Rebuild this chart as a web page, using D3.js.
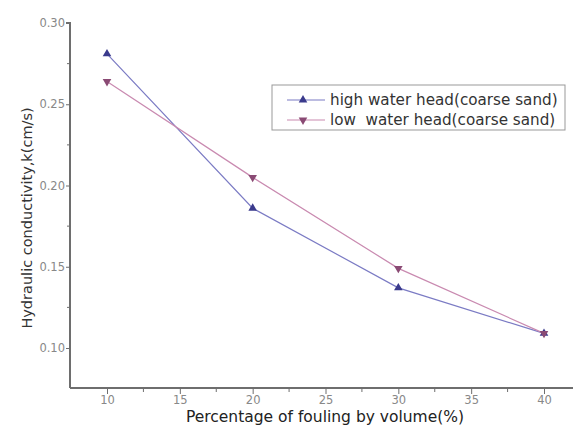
<!DOCTYPE html>
<html>
<head>
<meta charset="utf-8">
<script src="https://cdn.jsdelivr.net/npm/d3@7"></script>
<style>
  body { margin: 0; background: #fff; }
  svg text { font-family: "DejaVu Sans", Arial, sans-serif; }
</style>
</head>
<body>
<div id="chart"></div>
<script>
// data
var fouling = [10, 20, 30, 40];
var highHead = [0.281, 0.186, 0.137, 0.109];
var lowHead = [0.264, 0.205, 0.149, 0.109];
var seriesNames = ["high water head(coarse sand)", "low  water head(coarse sand)"];
var xTicks = [10, 15, 20, 25, 30, 35, 40];
var yTicks = [0.10, 0.15, 0.20, 0.25, 0.30];

var width = 573, height = 426;

var svg = d3.select("#chart").append("svg")
    .attr("width", width)
    .attr("height", height);

// scales
var x = d3.scaleLinear().domain([10, 40]).range([107, 544]);
var y = d3.scaleLinear().domain([0.10, 0.30]).range([348, 23]);

var axisColor = "#6e6e6e";

// y axis
var yAxis = d3.axisLeft(y)
    .tickValues(yTicks)
    .tickFormat(d3.format(".2f"))
    .tickSize(4);
var gy = svg.append("g").attr("transform", "translate(70,0)").call(yAxis);
gy.select(".domain").attr("stroke", axisColor).attr("stroke-width", 2).attr("d", "M0,388V23H-4");
gy.selectAll(".tick line").attr("stroke", axisColor);
gy.selectAll(".tick text").attr("fill", "#888").attr("font-size", 11.5).attr("x", -5);
// minor ticks
gy.selectAll(".minor").data([0.125, 0.175, 0.225, 0.275]).enter().append("line")
    .attr("x1", -3).attr("x2", 0)
    .attr("y1", function(d) { return y(d); })
    .attr("y2", function(d) { return y(d); })
    .attr("stroke", axisColor);

// x axis
var xAxis = d3.axisBottom(x)
    .tickValues(xTicks)
    .tickFormat(d3.format("d"))
    .tickSize(6);
var gx = svg.append("g").attr("transform", "translate(0,388)").call(xAxis);
gx.select(".domain").attr("stroke", axisColor).attr("stroke-width", 2).attr("d", "M70,0H573");
gx.selectAll(".tick line").attr("stroke", axisColor);
gx.selectAll(".tick text").attr("fill", "#888").attr("font-size", 11.5).attr("y", 8);
gx.selectAll(".minor").data([12.5, 17.5, 22.5, 27.5, 32.5, 37.5]).enter().append("line")
    .attr("x1", function(d) { return x(d); })
    .attr("x2", function(d) { return x(d); })
    .attr("y1", 0).attr("y2", 4)
    .attr("stroke", axisColor);

// axis titles
svg.append("text")
    .attr("x", 325).attr("y", 422)
    .attr("text-anchor", "middle")
    .attr("font-size", 15.5)
    .attr("fill", "#222")
    .text("Percentage of fouling by volume(%)");

svg.append("text")
    .attr("transform", "translate(32,218) rotate(-90)")
    .attr("text-anchor", "middle")
    .attr("font-size", 14.5)
    .attr("fill", "#333")
    .text("Hydraulic conductivity,k(cm/s)");

// series
var series = [
    { name: seriesNames[0], values: highHead, line: "#7b7bc4", mark: "#3a3a8c", shape: "up" },
    { name: seriesNames[1], values: lowHead, line: "#c98ab0", mark: "#8a4a74", shape: "down" }
];

var line = d3.line()
    .x(function(d) { return x(d[0]); })
    .y(function(d) { return y(d[1]); });

var tri = d3.symbol().type(d3.symbolTriangle).size(32);

series.forEach(function(s) {
    var pts = d3.zip(fouling, s.values);
    svg.append("path")
        .datum(pts)
        .attr("fill", "none")
        .attr("stroke", s.line)
        .attr("stroke-width", 1.2)
        .attr("d", line);
    svg.selectAll(null).data(pts).enter().append("path")
        .attr("d", tri)
        .attr("fill", s.mark)
        .attr("transform", function(d) {
            return "translate(" + x(d[0]) + "," + y(d[1]) + ")" + (s.shape === "down" ? " rotate(180)" : "");
        });
});

// legend
var legend = svg.append("g").attr("transform", "translate(272,85)");
legend.append("rect")
    .attr("width", 293).attr("height", 45)
    .attr("fill", "#fff")
    .attr("stroke", "#999")
    .attr("stroke-width", 1);

series.forEach(function(s, i) {
    var ly = 15 + i * 20;
    legend.append("line")
        .attr("x1", 15).attr("x2", 53)
        .attr("y1", ly).attr("y2", ly)
        .attr("stroke", s.line)
        .attr("stroke-width", 1.2);
    legend.append("path")
        .attr("d", tri)
        .attr("fill", s.mark)
        .attr("transform", "translate(31," + ly + ")" + (s.shape === "down" ? " rotate(180)" : ""));
    legend.append("text")
        .attr("x", 58).attr("y", ly + 5)
        .attr("font-size", 15.2)
        .attr("fill", "#333")
        .attr("xml:space", "preserve")
        .text(s.name);
});
</script>
</body>
</html>
